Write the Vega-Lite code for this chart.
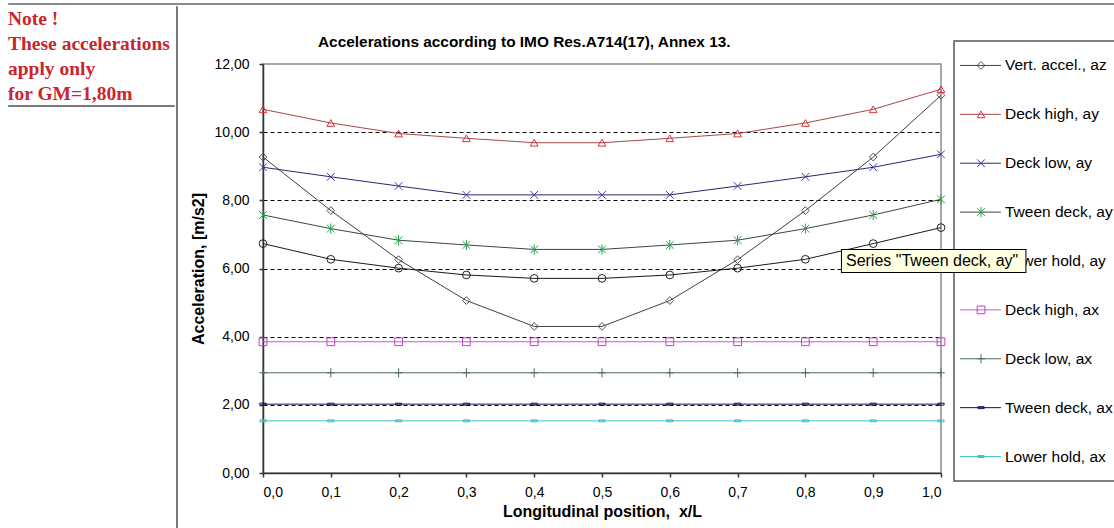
{
  "$schema": "https://vega.github.io/schema/vega-lite/v6.json",
  "padding": {"left": 7, "top": 2, "right": 0, "bottom": 0},
  "background": "#ffffff",
  "spacing": 0,
  "config": {
    "view": {"stroke": null},
    "concat": {"spacing": 0},
    "font": "Liberation Sans",
    "axis": {"labelFont": "Liberation Sans", "titleFont": "Liberation Sans", "labelColor": "#000000", "titleColor": "#000000"}
  },
  "datasets": {
    "acc": [
      {"series": "Vert. accel., az", "x": 0.0, "y": 9.27},
      {"series": "Vert. accel., az", "x": 0.1, "y": 7.70},
      {"series": "Vert. accel., az", "x": 0.2, "y": 6.26},
      {"series": "Vert. accel., az", "x": 0.3, "y": 5.06},
      {"series": "Vert. accel., az", "x": 0.4, "y": 4.30},
      {"series": "Vert. accel., az", "x": 0.5, "y": 4.30},
      {"series": "Vert. accel., az", "x": 0.6, "y": 5.06},
      {"series": "Vert. accel., az", "x": 0.7, "y": 6.26},
      {"series": "Vert. accel., az", "x": 0.8, "y": 7.70},
      {"series": "Vert. accel., az", "x": 0.9, "y": 9.27},
      {"series": "Vert. accel., az", "x": 1.0, "y": 11.08},
      {"series": "Deck high, ay", "x": 0.0, "y": 10.67},
      {"series": "Deck high, ay", "x": 0.1, "y": 10.27},
      {"series": "Deck high, ay", "x": 0.2, "y": 9.96},
      {"series": "Deck high, ay", "x": 0.3, "y": 9.82},
      {"series": "Deck high, ay", "x": 0.4, "y": 9.69},
      {"series": "Deck high, ay", "x": 0.5, "y": 9.69},
      {"series": "Deck high, ay", "x": 0.6, "y": 9.82},
      {"series": "Deck high, ay", "x": 0.7, "y": 9.96},
      {"series": "Deck high, ay", "x": 0.8, "y": 10.27},
      {"series": "Deck high, ay", "x": 0.9, "y": 10.67},
      {"series": "Deck high, ay", "x": 1.0, "y": 11.26},
      {"series": "Deck low, ay", "x": 0.0, "y": 8.97},
      {"series": "Deck low, ay", "x": 0.1, "y": 8.69},
      {"series": "Deck low, ay", "x": 0.2, "y": 8.42},
      {"series": "Deck low, ay", "x": 0.3, "y": 8.16},
      {"series": "Deck low, ay", "x": 0.4, "y": 8.16},
      {"series": "Deck low, ay", "x": 0.5, "y": 8.16},
      {"series": "Deck low, ay", "x": 0.6, "y": 8.16},
      {"series": "Deck low, ay", "x": 0.7, "y": 8.42},
      {"series": "Deck low, ay", "x": 0.8, "y": 8.69},
      {"series": "Deck low, ay", "x": 0.9, "y": 8.97},
      {"series": "Deck low, ay", "x": 1.0, "y": 9.35},
      {"series": "Tween deck, ay", "x": 0.0, "y": 7.57},
      {"series": "Tween deck, ay", "x": 0.1, "y": 7.17},
      {"series": "Tween deck, ay", "x": 0.2, "y": 6.83},
      {"series": "Tween deck, ay", "x": 0.3, "y": 6.69},
      {"series": "Tween deck, ay", "x": 0.4, "y": 6.56},
      {"series": "Tween deck, ay", "x": 0.5, "y": 6.56},
      {"series": "Tween deck, ay", "x": 0.6, "y": 6.69},
      {"series": "Tween deck, ay", "x": 0.7, "y": 6.83},
      {"series": "Tween deck, ay", "x": 0.8, "y": 7.17},
      {"series": "Tween deck, ay", "x": 0.9, "y": 7.57},
      {"series": "Tween deck, ay", "x": 1.0, "y": 8.03},
      {"series": "Lower hold, ay", "x": 0.0, "y": 6.73},
      {"series": "Lower hold, ay", "x": 0.1, "y": 6.27},
      {"series": "Lower hold, ay", "x": 0.2, "y": 6.01},
      {"series": "Lower hold, ay", "x": 0.3, "y": 5.81},
      {"series": "Lower hold, ay", "x": 0.4, "y": 5.71},
      {"series": "Lower hold, ay", "x": 0.5, "y": 5.71},
      {"series": "Lower hold, ay", "x": 0.6, "y": 5.81},
      {"series": "Lower hold, ay", "x": 0.7, "y": 6.01},
      {"series": "Lower hold, ay", "x": 0.8, "y": 6.27},
      {"series": "Lower hold, ay", "x": 0.9, "y": 6.73},
      {"series": "Lower hold, ay", "x": 1.0, "y": 7.20},
      {"series": "Deck high, ax", "x": 0.0, "y": 3.85},
      {"series": "Deck high, ax", "x": 0.1, "y": 3.85},
      {"series": "Deck high, ax", "x": 0.2, "y": 3.85},
      {"series": "Deck high, ax", "x": 0.3, "y": 3.85},
      {"series": "Deck high, ax", "x": 0.4, "y": 3.85},
      {"series": "Deck high, ax", "x": 0.5, "y": 3.85},
      {"series": "Deck high, ax", "x": 0.6, "y": 3.85},
      {"series": "Deck high, ax", "x": 0.7, "y": 3.85},
      {"series": "Deck high, ax", "x": 0.8, "y": 3.85},
      {"series": "Deck high, ax", "x": 0.9, "y": 3.85},
      {"series": "Deck high, ax", "x": 1.0, "y": 3.85},
      {"series": "Deck low, ax", "x": 0.0, "y": 2.94},
      {"series": "Deck low, ax", "x": 0.1, "y": 2.94},
      {"series": "Deck low, ax", "x": 0.2, "y": 2.94},
      {"series": "Deck low, ax", "x": 0.3, "y": 2.94},
      {"series": "Deck low, ax", "x": 0.4, "y": 2.94},
      {"series": "Deck low, ax", "x": 0.5, "y": 2.94},
      {"series": "Deck low, ax", "x": 0.6, "y": 2.94},
      {"series": "Deck low, ax", "x": 0.7, "y": 2.94},
      {"series": "Deck low, ax", "x": 0.8, "y": 2.94},
      {"series": "Deck low, ax", "x": 0.9, "y": 2.94},
      {"series": "Deck low, ax", "x": 1.0, "y": 2.94},
      {"series": "Tween deck, ax", "x": 0.0, "y": 2.02},
      {"series": "Tween deck, ax", "x": 0.1, "y": 2.02},
      {"series": "Tween deck, ax", "x": 0.2, "y": 2.02},
      {"series": "Tween deck, ax", "x": 0.3, "y": 2.02},
      {"series": "Tween deck, ax", "x": 0.4, "y": 2.02},
      {"series": "Tween deck, ax", "x": 0.5, "y": 2.02},
      {"series": "Tween deck, ax", "x": 0.6, "y": 2.02},
      {"series": "Tween deck, ax", "x": 0.7, "y": 2.02},
      {"series": "Tween deck, ax", "x": 0.8, "y": 2.02},
      {"series": "Tween deck, ax", "x": 0.9, "y": 2.02},
      {"series": "Tween deck, ax", "x": 1.0, "y": 2.02},
      {"series": "Lower hold, ax", "x": 0.0, "y": 1.53},
      {"series": "Lower hold, ax", "x": 0.1, "y": 1.53},
      {"series": "Lower hold, ax", "x": 0.2, "y": 1.53},
      {"series": "Lower hold, ax", "x": 0.3, "y": 1.53},
      {"series": "Lower hold, ax", "x": 0.4, "y": 1.53},
      {"series": "Lower hold, ax", "x": 0.5, "y": 1.53},
      {"series": "Lower hold, ax", "x": 0.6, "y": 1.53},
      {"series": "Lower hold, ax", "x": 0.7, "y": 1.53},
      {"series": "Lower hold, ax", "x": 0.8, "y": 1.53},
      {"series": "Lower hold, ax", "x": 0.9, "y": 1.53},
      {"series": "Lower hold, ax", "x": 1.0, "y": 1.53}
    ],
    "keys": [
      {"series": "Vert. accel., az"},
      {"series": "Deck high, ay"},
      {"series": "Deck low, ay"},
      {"series": "Tween deck, ay"},
      {"series": "Lower hold, ay"},
      {"series": "Deck high, ax"},
      {"series": "Deck low, ax"},
      {"series": "Tween deck, ax"},
      {"series": "Lower hold, ax"}
    ],
    "tip": [{"series": "Lower hold, ay", "t": "Series \"Tween deck, ay\""}]
  },
  "vconcat": [
    {
      "width": 1107, "height": 1,
      "view": {"stroke": "#8c8c8c", "strokeWidth": 1, "fill": "#8c8c8c"},
      "data": {"values": []},
      "mark": "point"
    },
    {
      "hconcat": [
        {
          "vconcat": [
            {
              "width": 166, "height": 1,
              "title": {
                "text": ["Note !", "These accelerations", "apply only", "for GM=1,80m"],
                "orient": "bottom", "anchor": "start", "frame": "group",
                "font": "Liberation Serif", "fontSize": 19.5, "fontWeight": "bold",
                "color": "#c8262b", "lineHeight": 25, "offset": 3
              },
              "data": {"values": []},
              "mark": "point"
            },
            {
              "width": 166, "height": 1,
              "view": {"stroke": "#7a7a7a", "strokeWidth": 1, "fill": "#7a7a7a"},
              "data": {"values": []},
              "mark": "point"
            }
          ]
        },
        {
          "width": 1, "height": 524,
          "view": {"stroke": "#7a7a7a", "strokeWidth": 1, "fill": "#7a7a7a"},
          "data": {"values": []},
          "mark": "point"
        },
        {
          "width": 12, "height": 1,
          "data": {"values": []},
          "mark": "point"
        },
        {
          "spacing": -120,
          "hconcat": [
            {
              "vconcat": [
                {
                  "width": 1, "height": 27,
                  "data": {"values": []},
                  "mark": "point"
                },
                {
                  "width": 678, "height": 409,
                  "view": {"stroke": "#8a8a8a", "strokeWidth": 1.5},
                  "title": {
                    "text": "Accelerations according to IMO Res.A714(17), Annex 13.",
                    "anchor": "start", "frame": "group", "dx": 55, "fontSize": 15.4, "fontWeight": "bold",
                    "font": "Liberation Sans", "color": "#000000", "offset": 7
                  },
                  "data": {"name": "acc"},
                  "layer": [
                    {
                      "mark": {"type": "line", "strokeWidth": 1},
                      "encoding": {
                        "x": {
                          "field": "x", "type": "quantitative",
                          "scale": {"domain": [0, 1], "nice": false, "zero": false},
                          "axis": {
                            "values": [0, 0.1, 0.2, 0.3, 0.4, 0.5, 0.6, 0.7, 0.8, 0.9, 1],
                            "labelExpr": "replace(format(datum.value, '.1f'), '.', ',')",
                            "title": "Longitudinal position,\u00a0 x/L",
                            "titleFontWeight": "bold", "titleFontSize": 16, "titlePadding": 4,
                            "labelFontSize": 14, "labelPadding": 8,
                            "grid": false,
                            "domainColor": "#333333", "domainWidth": 1.5,
                            "tickColor": "#333333", "tickSize": 4, "tickWidth": 1.5
                          }
                        },
                        "y": {
                          "field": "y", "type": "quantitative",
                          "scale": {"domain": [0, 12], "nice": false},
                          "axis": {
                            "values": [0, 2, 4, 6, 8, 10, 12],
                            "labelExpr": "replace(format(datum.value, '.2f'), '.', ',')",
                            "title": "Acceleration, [m/s2]",
                            "titleFontWeight": "bold", "titleFontSize": 16, "titlePadding": 7,
                            "labelFontSize": 14, "labelPadding": 10,
                            "grid": true, "gridColor": "#000000", "gridDash": [4, 3], "gridWidth": 1,
                            "gridOpacity": {"condition": {"test": "datum.value === 0 || datum.value === 12", "value": 0}, "value": 1},
                            "domainColor": "#333333", "domainWidth": 1.5,
                            "tickColor": "#333333", "tickSize": 4, "tickWidth": 1.5
                          }
                        },
                        "stroke": {
                          "field": "series", "type": "nominal",
                          "scale": {
                            "domain": ["Vert. accel., az", "Deck high, ay", "Deck low, ay", "Tween deck, ay", "Lower hold, ay", "Deck high, ax", "Deck low, ax", "Tween deck, ax", "Lower hold, ax"],
                            "range": ["#404040", "#a84848", "#28286e", "#3a4a3a", "#1a1a1a", "#c060c0", "#4e6a5c", "#101050", "#40c4c4"]
                          },
                          "legend": null
                        }
                      }
                    },
                    {
                      "mark": {"type": "point", "filled": false, "size": 60, "strokeWidth": 1, "opacity": 1},
                      "encoding": {
                        "x": {"field": "x", "type": "quantitative"},
                        "y": {"field": "y", "type": "quantitative"},
                        "color": {
                          "field": "series", "type": "nominal",
                          "scale": {
                            "domain": ["Vert. accel., az", "Deck high, ay", "Deck low, ay", "Tween deck, ay", "Lower hold, ay", "Deck high, ax", "Deck low, ax", "Tween deck, ax", "Lower hold, ax"],
                            "range": ["#5a4a5a", "#e0303a", "#3a3aa8", "#20a048", "#202020", "#c040c0", "#4e6a5c", "#101050", "#30c0c0"]
                          },
                          "legend": null
                        },
                        "shape": {
                          "field": "series", "type": "nominal",
                          "scale": {
                            "domain": ["Vert. accel., az", "Deck high, ay", "Deck low, ay", "Tween deck, ay", "Lower hold, ay", "Deck high, ax", "Deck low, ax", "Tween deck, ax", "Lower hold, ax"],
                            "range": ["diamond", "triangle-up", "M-1,-1L1,1M-1,1L1,-1", "M-1,-1L1,1M-1,1L1,-1M0,-1.3L0,1.3", "circle", "square", "M0,-1.2L0,1.2M-1,0L1,0", "M-0.8,-0.25L0.8,-0.25L0.8,0.25L-0.8,0.25Z", "M-0.8,-0.25L0.8,-0.25L0.8,0.25L-0.8,0.25Z"]
                          },
                          "legend": null
                        }
                      }
                    }
                  ]
                }
              ]
            },
            {
              "vconcat": [
                {
                  "width": 1, "height": 34,
                  "data": {"values": []},
                  "mark": "point"
                },
                {
                  "width": 170, "height": 440,
                  "view": {"stroke": "#555555", "strokeWidth": 1.5},
                  "encoding": {
                    "y": {"field": "series", "type": "nominal", "sort": null, "scale": {"type": "point", "padding": 0.5, "domain": ["Vert. accel., az", "Deck high, ay", "Deck low, ay", "Tween deck, ay", "Lower hold, ay", "Deck high, ax", "Deck low, ax", "Tween deck, ax", "Lower hold, ax"]}, "axis": null}
                  },
                  "layer": [
                    {
                      "data": {"name": "keys"},
                      "mark": {"type": "rule", "strokeWidth": 1},
                      "encoding": {
                        "x": {"datum": 0.035, "type": "quantitative", "scale": {"domain": [0, 1]}, "axis": null},
                        "x2": {"datum": 0.276},
                        "stroke": {
                          "field": "series", "type": "nominal",
                          "scale": {
                            "domain": ["Vert. accel., az", "Deck high, ay", "Deck low, ay", "Tween deck, ay", "Lower hold, ay", "Deck high, ax", "Deck low, ax", "Tween deck, ax", "Lower hold, ax"],
                            "range": ["#404040", "#a84848", "#28286e", "#3a4a3a", "#1a1a1a", "#c060c0", "#4e6a5c", "#101050", "#40c4c4"]
                          },
                          "legend": null
                        }
                      }
                    },
                    {
                      "data": {"name": "keys"},
                      "mark": {"type": "point", "filled": false, "size": 60, "strokeWidth": 1, "opacity": 1},
                      "encoding": {
                        "x": {"datum": 0.159, "type": "quantitative"},
                        "color": {
                          "field": "series", "type": "nominal",
                          "scale": {
                            "domain": ["Vert. accel., az", "Deck high, ay", "Deck low, ay", "Tween deck, ay", "Lower hold, ay", "Deck high, ax", "Deck low, ax", "Tween deck, ax", "Lower hold, ax"],
                            "range": ["#5a4a5a", "#e0303a", "#3a3aa8", "#20a048", "#202020", "#c040c0", "#4e6a5c", "#101050", "#30c0c0"]
                          },
                          "legend": null
                        },
                        "shape": {
                          "field": "series", "type": "nominal",
                          "scale": {
                            "domain": ["Vert. accel., az", "Deck high, ay", "Deck low, ay", "Tween deck, ay", "Lower hold, ay", "Deck high, ax", "Deck low, ax", "Tween deck, ax", "Lower hold, ax"],
                            "range": ["diamond", "triangle-up", "M-1,-1L1,1M-1,1L1,-1", "M-1,-1L1,1M-1,1L1,-1M0,-1.3L0,1.3", "circle", "square", "M0,-1.2L0,1.2M-1,0L1,0", "M-0.8,-0.25L0.8,-0.25L0.8,0.25L-0.8,0.25Z", "M-0.8,-0.25L0.8,-0.25L0.8,0.25L-0.8,0.25Z"]
                          },
                          "legend": null
                        }
                      }
                    },
                    {
                      "data": {"name": "keys"},
                      "mark": {"type": "text", "align": "left", "baseline": "middle", "fontSize": 15.5, "font": "Liberation Sans", "color": "#000000"},
                      "encoding": {
                        "x": {"datum": 0.3, "type": "quantitative"},
                        "text": {"field": "series"}
                      }
                    },
                    {
                      "data": {"name": "tip"},
                      "mark": {"type": "rule", "strokeWidth": 24, "stroke": "#000000"},
                      "encoding": {
                        "x": {"datum": -0.665, "type": "quantitative"},
                        "x2": {"datum": 0.426}
                      }
                    },
                    {
                      "data": {"name": "tip"},
                      "mark": {"type": "rule", "strokeWidth": 22, "stroke": "#ffffe1"},
                      "encoding": {
                        "x": {"datum": -0.659, "type": "quantitative"},
                        "x2": {"datum": 0.42}
                      }
                    },
                    {
                      "data": {"name": "tip"},
                      "mark": {"type": "text", "align": "left", "baseline": "middle", "dx": 4, "fontSize": 16, "font": "Liberation Sans", "color": "#000000"},
                      "encoding": {
                        "x": {"datum": -0.659, "type": "quantitative"},
                        "text": {"field": "t"}
                      }
                    }
                  ]
                }
              ]
            }
          ]
        }
      ]
    }
  ]
}
